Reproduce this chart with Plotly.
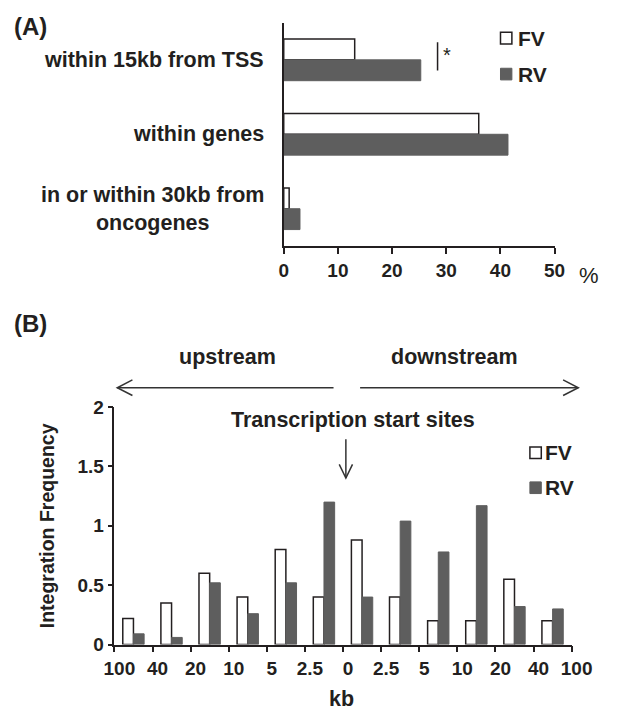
import plotly.graph_objects as go

# ---------------- data ----------------
categories_a = ["within 15kb from TSS", "within genes", "in or within 30kb from<br>oncogenes"]
fv_a = [13.1, 36.0, 1.0]
rv_a = [25.3, 41.4, 3.0]
xticks_a = [0, 10, 20, 30, 40, 50]

bins_b = list(range(12))
fv_b = [0.22, 0.35, 0.60, 0.40, 0.80, 0.40, 0.88, 0.40, 0.20, 0.20, 0.55, 0.20]
rv_b = [0.09, 0.06, 0.52, 0.26, 0.52, 1.20, 0.40, 1.04, 0.78, 1.17, 0.32, 0.30]
edge_labels_b = ["100", "40", "20", "10", "5", "2.5", "0", "2.5", "5", "10", "20", "40", "100"]
yticks_b = [0, 0.5, 1, 1.5, 2]

# ---------------- style ----------------
W, H = 623, 724
FONT = "Liberation Sans, Arial, sans-serif"
TXT = "#231f20"
GRAY = "#5e5e5e"
LINE = "#231f20"


def px(x):
    return x / W


def py(y):
    return 1 - y / H


fig = go.Figure()

fig.add_trace(go.Bar(y=categories_a, x=fv_a, orientation="h", name="FV",
                     marker=dict(color="white", line=dict(color=LINE, width=1.5)),
                     xaxis="x", yaxis="y", showlegend=False))
fig.add_trace(go.Bar(y=categories_a, x=rv_a, orientation="h", name="RV",
                     marker=dict(color=GRAY, line=dict(color=GRAY, width=1)),
                     xaxis="x", yaxis="y", showlegend=False))

fig.add_trace(go.Bar(x=bins_b, y=fv_b, name="FV",
                     marker=dict(color="white", line=dict(color=LINE, width=1.5)),
                     xaxis="x2", yaxis="y2", showlegend=False))
fig.add_trace(go.Bar(x=bins_b, y=rv_b, name="RV",
                     marker=dict(color=GRAY, line=dict(color=GRAY, width=1)),
                     xaxis="x2", yaxis="y2", showlegend=False))

tickfont = dict(family=FONT, size=19, color=TXT, weight="bold")

fig.update_layout(
    width=W, height=H, margin=dict(l=0, r=0, t=0, b=0),
    paper_bgcolor="white", plot_bgcolor="white",
    barmode="group", bargap=0.44, bargroupgap=0,
    font=dict(family=FONT, color=TXT),
    xaxis=dict(domain=[px(287.5), px(573)], range=[0, 50], tickvals=xticks_a,
               ticks="outside", ticklen=6, tickwidth=1.5, tickcolor=LINE,
               showline=True, linewidth=1.5, linecolor=LINE, showgrid=False,
               zeroline=False, tickfont=tickfont, anchor="y"),
    yaxis=dict(domain=[py(243), py(13)], type="category", range=[2.5, -0.5],
               showticklabels=False, ticks="", showline=True, linewidth=1.5,
               linecolor=LINE, showgrid=False, zeroline=False, anchor="x"),
    xaxis2=dict(domain=[px(109), px(591)], range=[-0.5, 11.5],
                tickvals=[i - 0.5 for i in range(13)], ticktext=edge_labels_b,
                ticks="outside", ticklen=6, tickwidth=1.5, tickcolor=LINE,
                showline=True, linewidth=1.5, linecolor=LINE, showgrid=False,
                zeroline=False, tickfont=tickfont, anchor="y2", ticklabelshift=5),
    yaxis2=dict(domain=[py(653.5), py(409)], range=[0, 2], tickvals=yticks_b,
                ticktext=["0", "0.5", "1", "1.5", "2"],
                ticks="outside", ticklen=5, tickwidth=1.5, tickcolor=LINE,
                showline=True, linewidth=1.5, linecolor=LINE, showgrid=False,
                zeroline=False, tickfont=tickfont, anchor="x2",
                title=dict(text="Integration Frequency", standoff=18,
                           font=dict(family=FONT, size=19.5, color=TXT, weight="bold"))),
)

ann = []


def text(x, y, s, size=21.5, xanchor="center", yanchor="middle", bold=True, align="center"):
    ann.append(dict(x=px(x), y=py(y), xref="paper", yref="paper", text=s,
                    showarrow=False, xanchor=xanchor, yanchor=yanchor, align=align,
                    font=dict(family=FONT, size=size, color=TXT,
                              weight="bold" if bold else "normal")))


# panel labels
text(1, 17, "(A)", size=24, xanchor="left")
text(1, 323, "(B)", size=24, xanchor="left")

# panel A category labels
for c in categories_a:
    ann.append(dict(x=px(269), y=c, xref="paper", yref="y", text=c, showarrow=False,
                    xanchor="right", yanchor="middle", align="center",
                    font=dict(family=FONT, size=21.5, color=TXT, weight="bold")))

# percent sign
text(609, 273, "%", size=22, bold=False)

# significance
shapes = []
shapes.append(dict(type="line", xref="x", yref="y", x0=28.4, x1=28.4, y0=-0.235, y1=0.143,
                   line=dict(color=LINE, width=1.5)))
ann.append(dict(x=29.0, y=-0.06, xref="x", yref="y", text="*", showarrow=False,
                xanchor="left", yanchor="middle",
                font=dict(family=FONT, size=20, color=TXT)))


def legend(x_sq, x_txt, y_fv, y_rv):
    shapes.append(dict(type="rect", xref="paper", yref="paper",
                       x0=px(x_sq), x1=px(x_sq + 12), y0=py(y_fv - 6), y1=py(y_fv + 6),
                       fillcolor="white", line=dict(color=LINE, width=1.5)))
    shapes.append(dict(type="rect", xref="paper", yref="paper",
                       x0=px(x_sq), x1=px(x_sq + 12), y0=py(y_rv - 6), y1=py(y_rv + 6),
                       fillcolor=GRAY, line=dict(color=GRAY, width=1)))
    text(x_txt, y_fv, "FV", size=21, xanchor="left")
    text(x_txt, y_rv, "RV", size=21, xanchor="left")


legend(516, 532, 29, 66)
legend(547, 561, 456, 492)

# panel B annotations
text(228, 357, "upstream")
text(468, 357, "downstream")
text(360, 422, "Transcription start sites")
text(348, 710, "kb")

# arrows
L = dict(color="#333333", width=1.5)
shapes.append(dict(type="line", xref="paper", yref="paper", x0=px(112), x1=px(340),
                   y0=py(389), y1=py(389), line=L))
shapes.append(dict(type="path", xref="paper", yref="paper",
                   path=f"M {px(128)},{py(381)} L {px(112)},{py(389)} L {px(128)},{py(397)}",
                   line=L))
shapes.append(dict(type="line", xref="paper", yref="paper", x0=px(368), x1=px(598),
                   y0=py(389), y1=py(389), line=L))
shapes.append(dict(type="path", xref="paper", yref="paper",
                   path=f"M {px(582)},{py(381)} L {px(598)},{py(389)} L {px(582)},{py(397)}",
                   line=L))
shapes.append(dict(type="line", xref="paper", yref="paper", x0=px(353), x1=px(353),
                   y0=py(442), y1=py(482), line=L))
shapes.append(dict(type="path", xref="paper", yref="paper",
                   path=f"M {px(346)},{py(468)} L {px(353)},{py(482)} L {px(360)},{py(468)}",
                   line=L))

fig.update_layout(annotations=ann, shapes=shapes)
fig.write_html("out.html", config={"displayModeBar": False},
               post_script="document.body.style.margin='0';document.body.style.overflow='hidden';")
